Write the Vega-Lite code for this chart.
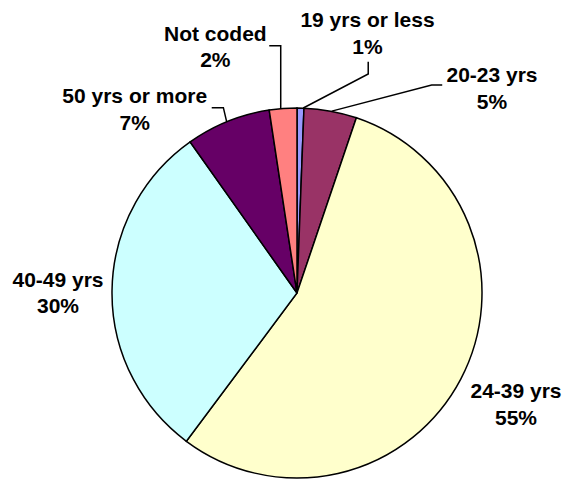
{
  "$schema": "https://vega.github.io/schema/vega-lite/v6.json",
  "width": 370,
  "height": 370,
  "autosize": "none",
  "padding": {"left": 112, "top": 108, "right": 82, "bottom": 1},
  "background": "white",
  "config": {
    "view": {"stroke": null},
    "text": {
      "font": "Liberation Sans",
      "fontSize": 21,
      "fontWeight": "bold",
      "align": "center",
      "baseline": "alphabetic",
      "lineHeight": 26.5,
      "color": "black"
    }
  },
  "datasets": {
    "ages": [
      {"slice": 1, "age": "19 yrs or less", "share": 0.6},
      {"slice": 2, "age": "20-23 yrs", "share": 4.6},
      {"slice": 3, "age": "24-39 yrs", "share": 55.0},
      {"slice": 4, "age": "40-49 yrs", "share": 30.0},
      {"slice": 5, "age": "50 yrs or more", "share": 7.4},
      {"slice": 6, "age": "Not coded", "share": 2.4}
    ],
    "leaders": [
      {"age": "19 yrs or less", "step": 1, "x": 0.385, "y": 1.250},
      {"age": "19 yrs or less", "step": 2, "x": 0.385, "y": 1.184},
      {"age": "19 yrs or less", "step": 3, "x": 0.034, "y": 1.000},
      {"age": "20-23 yrs", "step": 1, "x": 0.785, "y": 1.124},
      {"age": "20-23 yrs", "step": 2, "x": 0.728, "y": 1.124},
      {"age": "20-23 yrs", "step": 3, "x": 0.188, "y": 0.983},
      {"age": "50 yrs or more", "step": 1, "x": -0.461, "y": 1.002},
      {"age": "50 yrs or more", "step": 2, "x": -0.398, "y": 1.002},
      {"age": "50 yrs or more", "step": 3, "x": -0.380, "y": 0.925},
      {"age": "Not coded", "step": 1, "x": -0.150, "y": 1.337},
      {"age": "Not coded", "step": 2, "x": -0.088, "y": 1.337},
      {"age": "Not coded", "step": 3, "x": -0.088, "y": 0.996}
    ]
  },
  "data": {"name": "ages"},
  "layer": [
    {
      "mark": {"type": "arc", "outerRadius": 185, "stroke": "black", "strokeWidth": 1.5},
      "encoding": {
        "theta": {"field": "share", "type": "quantitative", "stack": true},
        "order": {"field": "slice", "type": "quantitative"},
        "color": {
          "field": "age",
          "type": "nominal",
          "legend": null,
          "scale": {
            "domain": ["19 yrs or less", "20-23 yrs", "24-39 yrs", "40-49 yrs", "50 yrs or more", "Not coded"],
            "range": ["#9999FF", "#993366", "#FFFFCC", "#CCFFFF", "#660066", "#FF8080"]
          }
        }
      }
    },
    {
      "data": {"name": "leaders"},
      "mark": {"type": "line", "color": "black", "strokeWidth": 1.5},
      "encoding": {
        "x": {"field": "x", "type": "quantitative", "axis": null, "scale": {"domain": [-1, 1], "nice": false, "zero": false}},
        "y": {"field": "y", "type": "quantitative", "axis": null, "scale": {"domain": [-1, 1], "nice": false, "zero": false}},
        "detail": {"field": "age", "type": "nominal"},
        "order": {"field": "step", "type": "quantitative"}
      }
    },
    {
      "transform": [
        {"calculate": "[datum.age, format(datum.share / 100, '.0%')]", "as": "label"}
      ],
      "layer": [
        {
          "transform": [{"filter": "datum.age === '19 yrs or less'"}],
          "mark": {"type": "text", "dx": 70.5, "dy": -265.7},
          "encoding": {"text": {"field": "label"}}
        },
        {
          "transform": [{"filter": "datum.age === '20-23 yrs'"}],
          "mark": {"type": "text", "dx": 195, "dy": -210.7},
          "encoding": {"text": {"field": "label"}}
        },
        {
          "transform": [{"filter": "datum.age === '24-39 yrs'"}],
          "mark": {"type": "text", "dx": 219, "dy": 105.3},
          "encoding": {"text": {"field": "label"}}
        },
        {
          "transform": [{"filter": "datum.age === '40-49 yrs'"}],
          "mark": {"type": "text", "dx": -239, "dy": -6.3},
          "encoding": {"text": {"field": "label"}}
        },
        {
          "transform": [{"filter": "datum.age === '50 yrs or more'"}],
          "mark": {"type": "text", "dx": -162.3, "dy": -189.7},
          "encoding": {"text": {"field": "label"}}
        },
        {
          "transform": [{"filter": "datum.age === 'Not coded'"}],
          "mark": {"type": "text", "dx": -81.7, "dy": -252.5},
          "encoding": {"text": {"field": "label"}}
        }
      ]
    }
  ]
}
